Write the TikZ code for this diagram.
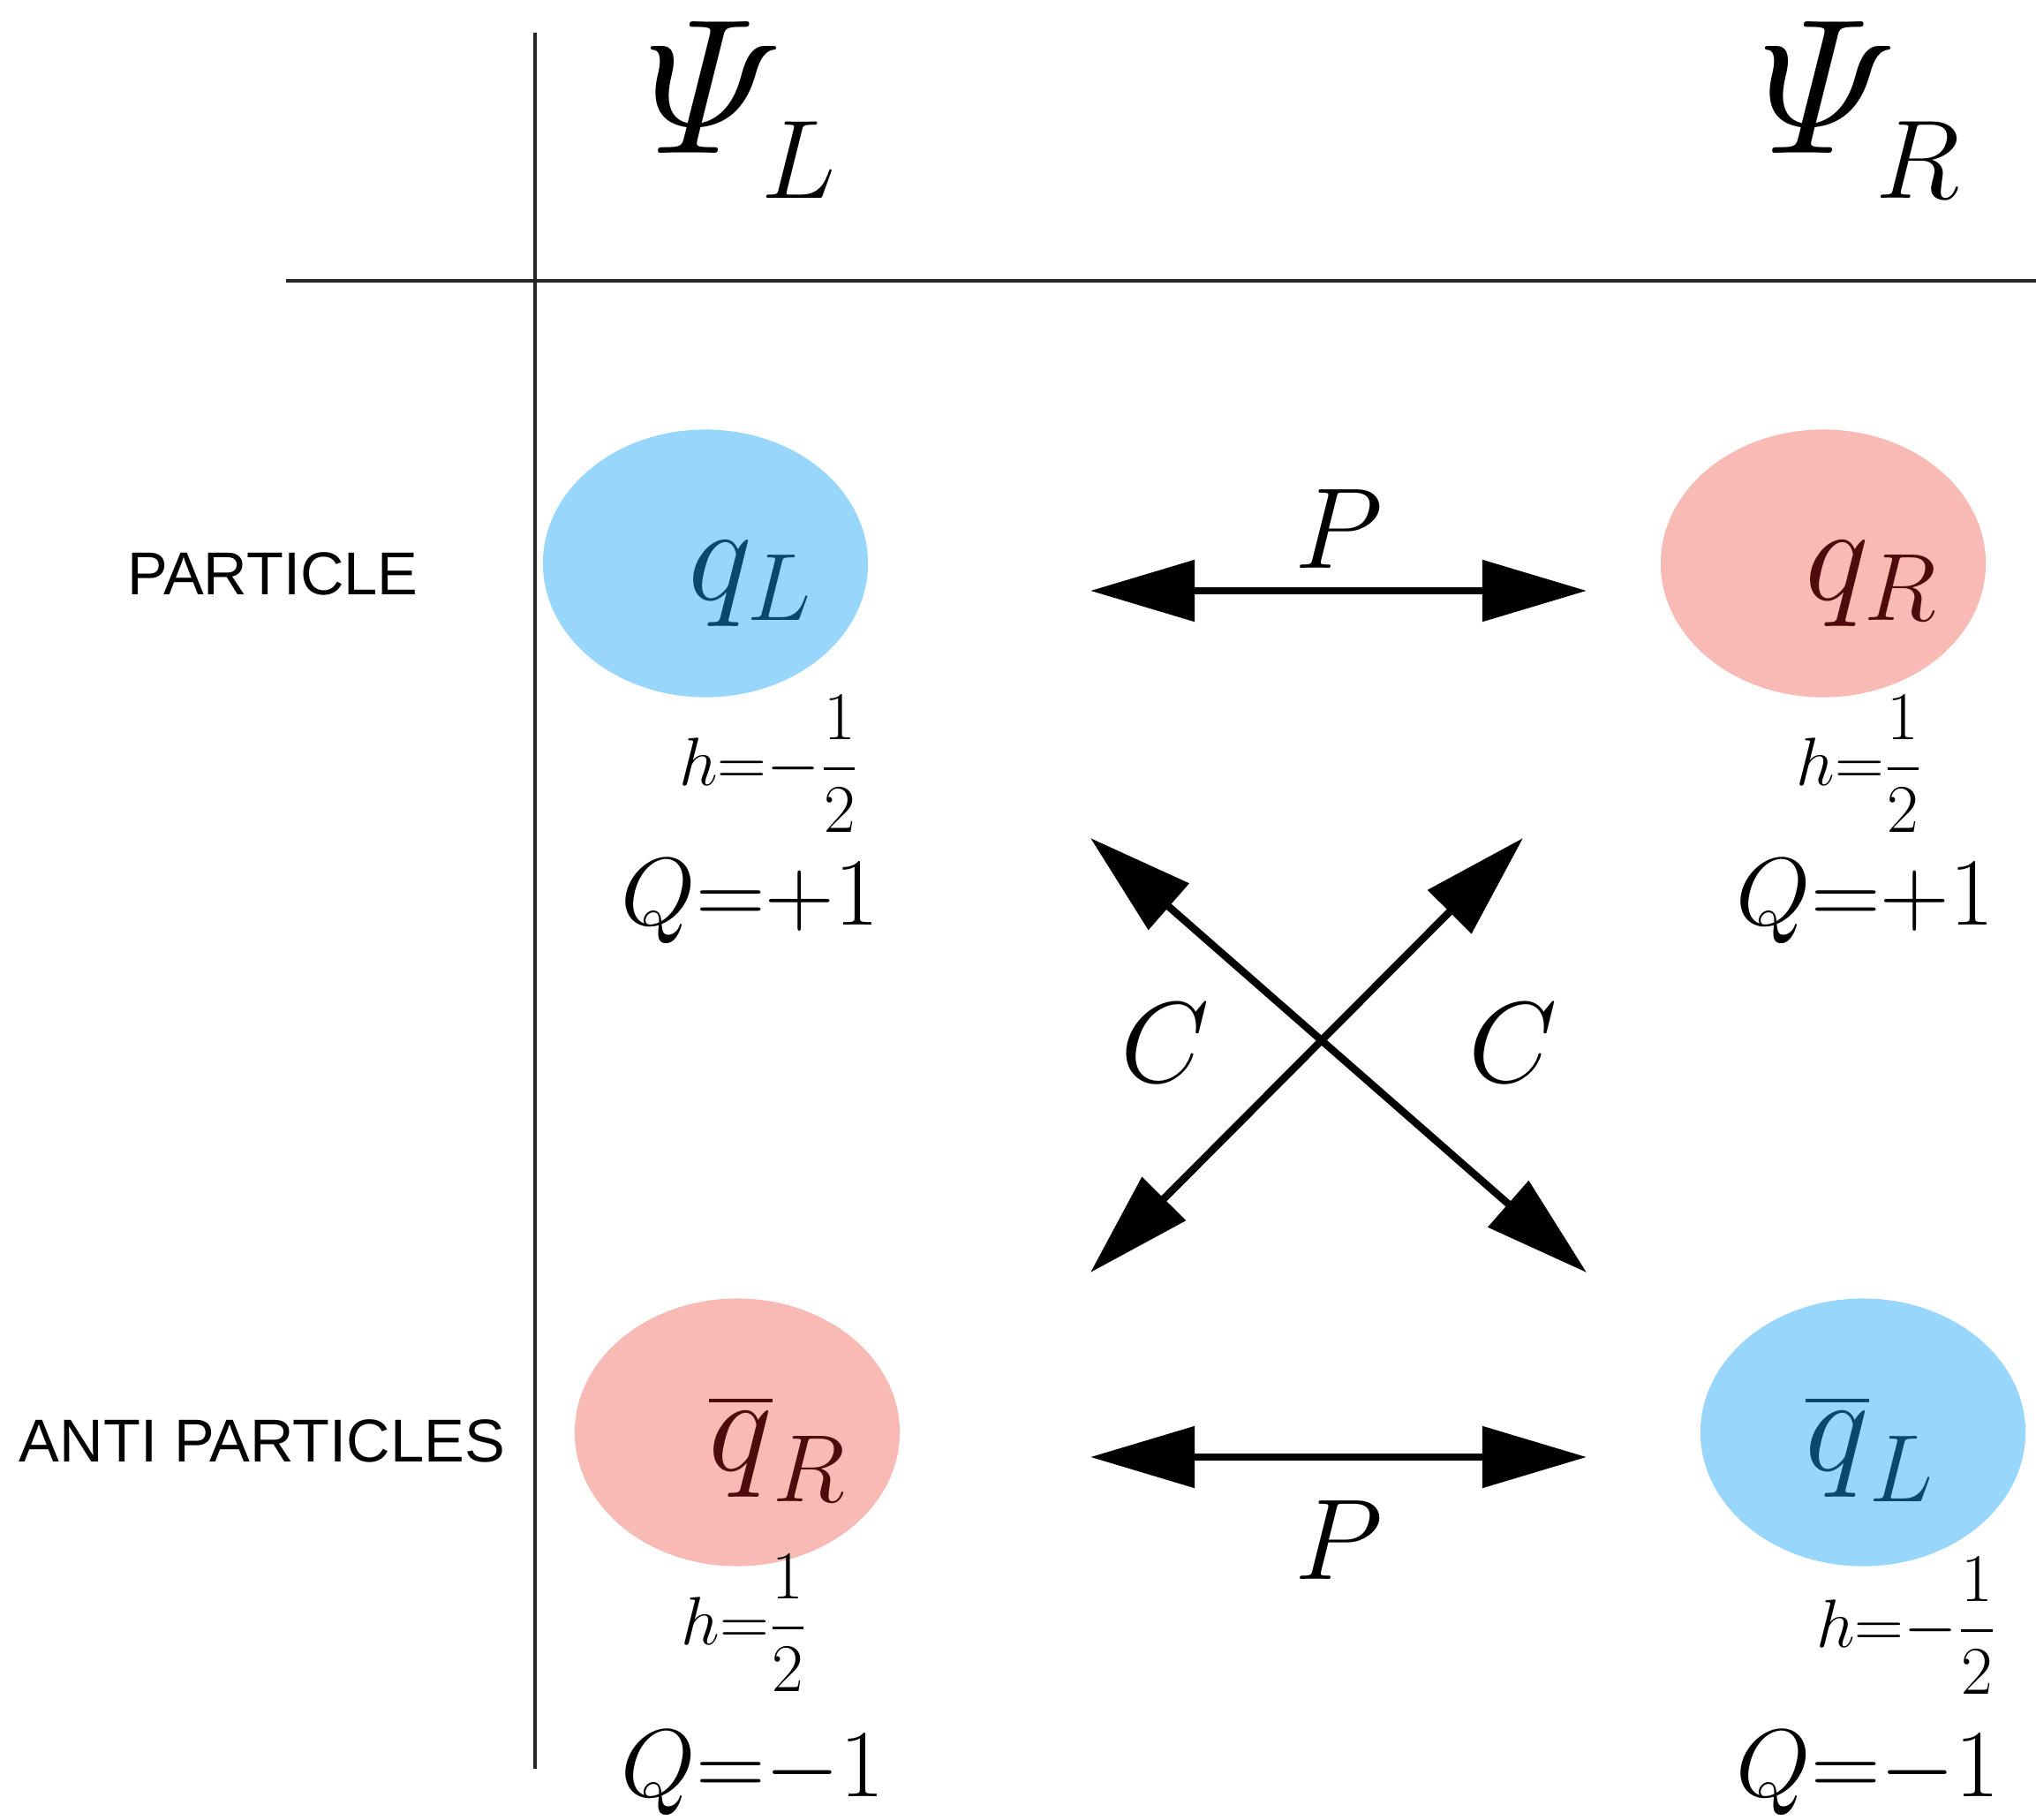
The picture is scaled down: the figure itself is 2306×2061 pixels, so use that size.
\documentclass[tikz,border=0pt]{standalone}
\usepackage{fix-cm}
\usepackage{amsmath}
\usepackage{fontspec}
\newfontfamily\rowfont{Liberation Sans}
\definecolor{leftBlue}{HTML}{99D6FC}
\definecolor{rightRed}{HTML}{F8BAB4}
\definecolor{leftInk}{HTML}{0B4870}
\definecolor{rightInk}{HTML}{4E0B0B}
\usetikzlibrary{shapes.geometric, arrows.meta, positioning}
\newcommand{\chiral}[1]{\raisebox{-0.08em}{\fontsize{36}{40}\selectfont$#1$}}

\begin{document}
\begin{tikzpicture}[
    x=0.01cm, y=-0.01cm,
    particle/.style={ellipse, minimum width=3.68cm, minimum height=3.03cm, inner sep=0pt},
    fieldname/.style={anchor=base west, inner sep=0pt, font=\fontsize{44}{50}\selectfont},
    chirality/.style={anchor=base west, inner sep=0pt, font=\fontsize{62}{68}\selectfont},
    helicity/.style={inner sep=0pt, font=\fontsize{22}{26}\selectfont},
    charge/.style={anchor=base west, inner sep=0pt, font=\fontsize{31}{36}\selectfont},
    rowlabel/.style={inner sep=0pt, font=\rowfont\fontsize{19.5}{23}\selectfont},
    operator/.style={inner sep=0pt, font=\fontsize{37}{44}\selectfont},
    separator/.style={line width=0.9pt, black!85},
    symmetry/.style={{Triangle[length=1.18cm, width=0.68cm]}-{Triangle[length=1.18cm, width=0.68cm]}, line width=2.4pt}
]
    \useasboundingbox (0,0) rectangle (2306,2061);

    % Table lines
    \coordinate (vTop) at (606,37);
    \coordinate (vBottom) at (606,2003);
    \coordinate (hLeft) at (324,318);
    \coordinate (hRight) at (2306,318);
    \draw[separator] (vTop) -- (vBottom);
    \draw[separator] (hLeft) -- (hRight);

    % Column and row heads
    \node[chirality] (psiL) at (731,174) {$\varPsi_{\chiral{L}}$};
    \node[chirality] (psiR) at (1993,174) {$\varPsi_{\chiral{R}}$};
    \node[rowlabel] (particle) at (309,650) {PARTICLE};
    \node[rowlabel] (anti) at (297,1632) {ANTI PARTICLES};

    % Particles
    \node[particle, fill=leftBlue] (qL) at (799,638) {};
    \node[particle, fill=rightRed] (qR) at (2065,638) {};
    \node[particle, fill=rightRed] (qbarR) at (835,1622) {};
    \node[particle, fill=leftBlue] (qbarL) at (2110,1622) {};

    \node[fieldname, text=leftInk] (qLname) at (779,679) {$q_L$};
    \node[fieldname, text=rightInk] (qRname) at (2044,679) {$q_R$};
    \node[fieldname, text=rightInk] (qbarRname) at (802,1665) {$\overline{q}_R$};
    \node[fieldname, text=leftInk] (qbarLname) at (2044,1665) {$\overline{q}_L$};

    % Quantum numbers
    \node[helicity] (hqL) at (871,865) {$h{=}{-}\dfrac{1}{2}$};
    \node[helicity] (hqR) at (2106,865) {$h{=}\dfrac{1}{2}$};
    \node[helicity] (hqbarR) at (843,1838) {$h{=}\dfrac{1}{2}$};
    \node[helicity] (hqbarL) at (2159,1841) {$h{=}{-}\dfrac{1}{2}$};

    \node[charge] (QqL) at (703,1047) {$Q{=}{+}1$};
    \node[charge] (QqR) at (1966,1047) {$Q{=}{+}1$};
    \node[charge] (QqbarR) at (703,2034) {$Q{=}{-}1$};
    \node[charge] (QqbarL) at (1966,2034) {$Q{=}{-}1$};

    % Connections
    \coordinate (pTopL) at (1235,669);
    \coordinate (pTopR) at (1797,669);
    \coordinate (pBotL) at (1235,1650);
    \coordinate (pBotR) at (1797,1650);
    \draw[symmetry] (pTopL) -- node[operator, above=6pt] (pTop) {$P$} (pTopR);
    \draw[symmetry] (pBotL) -- node[operator, below=13pt] (pBot) {$P$} (pBotR);

    \coordinate (cNW) at (1235,949);
    \coordinate (cSE) at (1797,1441);
    \coordinate (cSW) at (1235,1441);
    \coordinate (cNE) at (1725,949);
    \draw[symmetry] (cNW) -- (cSE);
    \draw[symmetry] (cSW) -- (cNE);
    \node[operator] (cLeft) at (1320,1181) {$C$};
    \node[operator] (cRight) at (1714,1181) {$C$};

\end{tikzpicture}
\end{document}
